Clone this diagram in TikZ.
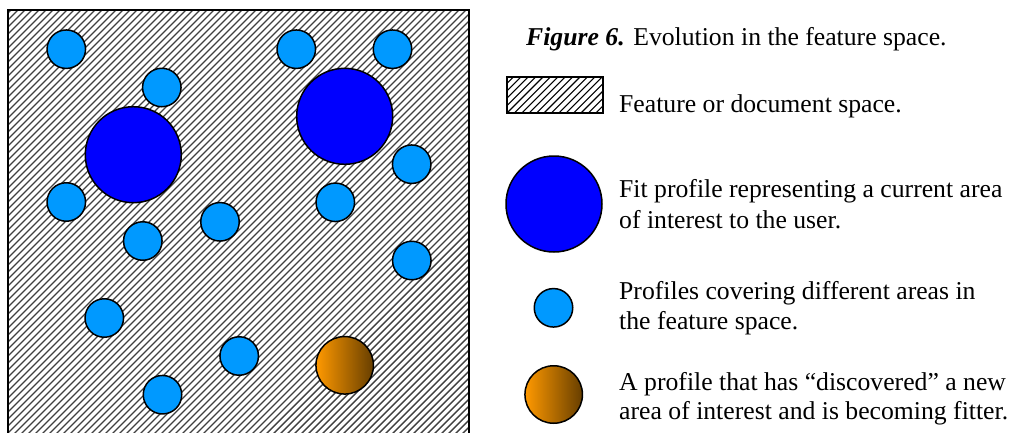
\documentclass[tikz,border=0pt]{standalone}
\usepackage{fontspec}
\setmainfont{Liberation Serif}
\definecolor{profblue}{RGB}{0,153,255}
\definecolor{fitblue}{RGB}{0,0,255}
\definecolor{newor}{RGB}{255,153,0}
\definecolor{newbr}{RGB}{102,62,0}
\tikzset{
  prof/.style={circle, draw=black, line width=1.5pt, fill=profblue, minimum size=38.5pt, inner sep=0pt},
  fitprof/.style={circle, draw=black, line width=1.5pt, fill=fitblue, minimum size=96pt, inner sep=0pt},
  newprof/.style={circle, draw=black, line width=1.5pt, left color=newor, middle color=newor!82!newbr, right color=newbr, minimum size=57.5pt, inner sep=0pt},
  legtext/.style={anchor=base west, inner sep=0pt, font=\fontsize{25.7pt}{30.6pt}\selectfont},
}
\begin{document}
\begin{tikzpicture}[x=1pt,y=-1pt]
\useasboundingbox (0,0) rectangle (1029,432);

% feature space: hatched panel
\begin{scope}
  \clip (8,10) rectangle (469,440);
  \foreach \k in {-64,...,67}
    \draw[black!75, line width=1.4pt] (8+7*\k,440) -- ++(430,-430);
\end{scope}
\draw[line width=1.5pt] (8,440) -- (8,10) -- (469,10) -- (469,440);

% profiles in the feature space
\node[prof] (p1) at (66.3,49.2) {};
\node[prof] (p2) at (161.8,87.5) {};
\node[prof] (p3) at (296.3,49.2) {};
\node[prof] (p4) at (392.5,49.2) {};
\node[prof] (p5) at (411.7,164.2) {};
\node[prof] (p6) at (66.3,202) {};
\node[prof] (p7) at (335.3,202.3) {};
\node[prof] (p8) at (220,221.8) {};
\node[prof] (p9) at (142.8,241) {};
\node[prof] (p10) at (411.8,260.5) {};
\node[prof] (p11) at (104.3,318) {};
\node[prof] (p12) at (239.2,356) {};
\node[prof] (p13) at (162.5,394.7) {};
\node[fitprof] (f1) at (133.3,154.7) {};
\node[fitprof] (f2) at (344.7,116.3) {};
\node[newprof] (n1) at (344.7,365.3) {};

% caption
\node[legtext] (cap) at (526,45) {{\bfseries\itshape Figure 6.} Evolution in the feature space.};

% legend: feature space swatch
\begin{scope}
  \clip (507,77) rectangle (603,113);
  \foreach \k in {-6,...,14}
    \draw[black, line width=1.1pt] (507+7.4*\k,113) -- ++(36,-36);
\end{scope}
\draw[line width=1.5pt] (507,77) rectangle (603,113);
\node[legtext] (lspace) at (619,112) {Feature or document space.};

% legend: fit profile
\node[fitprof] (lfit) at (554,204) {};
\node[legtext] (lfitA) at (619,197.7) {Fit profile representing a current area};
\node[legtext] (lfitB) at (619,228.3) {of interest to the user.};

% legend: ordinary profile
\node[prof] (lprof) at (553.5,307.8) {};
\node[legtext] (lprofA) at (619,299) {Profiles covering different areas in};
\node[legtext] (lprofB) at (619,329.6) {the feature space.};

% legend: new profile
\node[newprof] (lnew) at (553.7,394.5) {};
\node[legtext] (lnewA) at (619,390) {A profile that has “discovered” a new};
\node[legtext] (lnewB) at (619,419.5) {area of interest and is becoming fitter.};
\end{tikzpicture}
\end{document}
